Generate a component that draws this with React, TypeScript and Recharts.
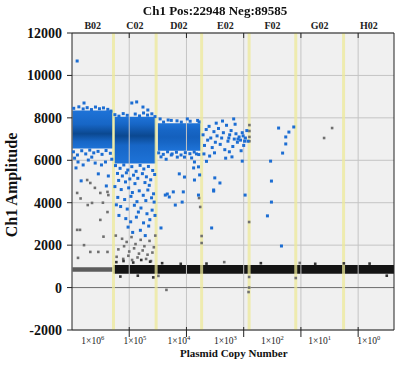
import React from 'react';
import { ComposedChart, Scatter, XAxis, YAxis, CartesianGrid, ReferenceArea, ReferenceLine } from 'recharts';

// droplet index along the run, in thousands
const wells = ['B02', 'C02', 'D02', 'E02', 'F02', 'G02', 'H02'];
const copyExp = ['6', '5', '4', '3', '2', '1', '0'];
const wellBounds = [0, 14.5, 29.4, 45.3, 61.9, 78.2, 94.9, 112.53];
const gridTicks = [20, 40, 60, 80, 100];
const ampTicks = [-2000, 0, 2000, 4000, 6000, 8000, 10000, 12000];

// dense positive clusters
const blobX1 = [0.2, 14.7, 30.0];
const blobX2 = [14.3, 29.2, 45.0];
const blobLow = [6550, 5850, 6450];
const blobHigh = [8350, 8050, 7750];
const blobCore = [7250, 7150, 7100];

// negative droplet band
const negX1 = [0.2, 14.5];
const negX2 = [14.3, 112.53];
const negLow = [740, 650];
const negHigh = [960, 1060];

const blueDrops: [number, number][] = [
  // B02
  [1.8, 10680], [4.2, 8700],
  [0.6, 8450], [2.4, 8520], [3.9, 8420], [5.3, 8480], [6.8, 8390], [8.2, 8510], [9.6, 8430], [11.0, 8470], [12.5, 8400], [13.6, 8320],
  [0.5, 6400], [1.9, 6250], [3.4, 6450], [4.8, 6300], [6.2, 6480], [7.6, 6350], [9.1, 6420], [10.5, 6280], [11.9, 6460], [13.4, 6330],
  [2.1, 5920], [3.9, 5780], [5.7, 6010], [8.1, 5870], [10.3, 5780], [11.7, 5920], [1.4, 5640], [9.2, 5360], [12.7, 5260], [3.2, 5030],
  [12.0, 4790], [0.9, 6100], [6.9, 6150], [13.9, 6050],
  // C02
  [20.9, 8700], [22.6, 8750], [24.8, 8510], [26.5, 8370], [15.0, 8150], [16.4, 8080], [17.9, 8200], [19.3, 8120], [22.1, 8180],
  [23.6, 8090], [25.0, 8230], [26.4, 8130], [27.9, 8190], [29.0, 8060],
  [15.2, 5750], [16.8, 5620], [18.1, 5780], [19.5, 5540], [20.9, 5700], [22.4, 5480], [23.8, 5760], [25.1, 5590], [26.7, 5710],
  [28.2, 5520], [15.9, 5380], [17.6, 5260], [19.0, 5410], [21.5, 5300], [23.0, 5150], [24.6, 5370], [26.0, 5220], [27.5, 5080],
  [28.9, 5330], [16.3, 5050], [18.7, 4980], [20.2, 5120], [22.0, 4900], [25.5, 4950], [27.0, 4820],
  [15.0, 4760], [17.2, 4620], [19.8, 4700], [21.1, 4480], [23.5, 4560], [24.9, 4350], [26.5, 4600], [28.5, 4420], [16.0, 4250],
  [18.4, 4150], [20.6, 4300], [22.7, 4050], [25.8, 4100], [27.8, 4230], [15.5, 3900],
  [17.0, 3820], [19.3, 3700], [21.8, 3880], [23.2, 3560], [24.1, 3750], [26.2, 3480], [28.0, 3650], [16.4, 3400], [18.8, 3250],
  [20.5, 3100], [22.5, 3320], [25.0, 3050], [27.2, 3200], [29.0, 3400],
  [19.6, 2850], [23.9, 2700], [26.8, 2900], [21.2, 2600], [25.6, 2450], [28.7, 4030],
  // D02
  [30.8, 7950], [32.0, 7800], [33.6, 7900], [34.7, 7880], [36.7, 7860], [38.2, 7800], [40.3, 7950], [41.3, 7840], [43.9, 7880], [44.4, 7810],
  [30.3, 6350], [31.9, 6280], [33.4, 6400], [35.0, 6300], [36.5, 6380], [38.1, 6250], [39.6, 6360], [41.2, 6310], [42.7, 6390], [44.3, 6270],
  [31.1, 6160], [34.7, 6250], [39.3, 6150], [41.8, 6110], [32.9, 6050], [36.8, 6150], [43.5, 6300],
  [42.8, 5920], [44.2, 5690], [42.5, 5640], [37.5, 5360], [39.3, 5210], [42.8, 5070], [44.6, 5310], [33.3, 4410], [35.4, 4510],
  [44.2, 4360], [32.6, 4360], [34.0, 4270], [38.9, 4510], [36.1, 3890], [38.5, 4030], [31.1, 2810],
  // E02
  [45.8, 7200], [46.3, 6700], [46.9, 7450], [47.4, 6950], [47.9, 7600], [48.5, 7050], [49.0, 6600], [49.6, 7350], [50.1, 6850],
  [50.7, 7150], [51.2, 7500], [51.8, 6750], [52.3, 7050], [52.9, 7300], [53.4, 6500], [54.0, 7650], [54.5, 6900], [55.1, 7200],
  [55.6, 7400], [56.2, 6650], [56.7, 7000], [57.3, 7250], [57.8, 6850], [58.4, 7100], [58.9, 6950], [59.5, 7300], [60.0, 6700],
  [60.6, 7050], [61.1, 7400], [46.1, 6300], [48.1, 6200], [50.4, 7750], [52.6, 7850], [55.0, 6400], [57.0, 7700], [59.1, 6450],
  [61.5, 6900], [47.0, 5950], [49.8, 6350], [53.7, 6100], [56.5, 7950], [58.0, 7000], [59.8, 7150], [60.3, 6900], [54.8, 7050],
  [49.9, 5170], [51.7, 4930], [49.5, 4550], [59.5, 5960], [55.9, 6160], [48.8, 2810], [49.5, 4600], [60.5, 4360],
  // F02
  [72.2, 7520], [77.5, 7570], [75.8, 7330], [74.7, 7100], [74.7, 6770], [73.6, 6340], [69.4, 5960], [69.7, 5020], [69.7, 4030],
  [68.3, 3380], [73.2, 1960],
];

const grayDrops: [number, number][] = [
  // B02
  [1.8, 4460], [5.5, 3890], [7.0, 3990], [9.9, 3190], [1.8, 2720], [2.8, 2720], [9.2, 1680], [6.4, 1680], [12.4, 1680], [2.1, 1400],
  [12.4, 3560], [12.7, 4360], [5.3, 5070], [6.4, 4930], [9.9, 4460], [12.4, 4510], [3.0, 4200], [8.0, 4700], [10.8, 4000],
  [4.2, 2000], [11.0, 2400],
  // C02
  [15.3, 2450], [17.5, 2300], [19.1, 2150], [20.8, 2380], [22.2, 2050], [24.0, 2250], [25.3, 1950], [27.1, 2200], [28.6, 1900],
  [16.2, 1800], [18.2, 1950], [20.0, 1700], [21.7, 1850], [23.4, 1600], [24.7, 1750], [26.4, 1550], [28.1, 1650], [15.6, 1450],
  [17.9, 1350], [19.7, 1500], [21.0, 1300], [22.9, 1420], [25.9, 1350], [27.6, 1250], [29.1, 2450],
  // rest
  [44.4, 4220], [44.8, 3800], [45.3, 2430], [45.3, 2100], [61.9, 3090], [62.0, 7660], [62.0, 7380], [62.0, 7100], [62.0, 6900],
  [88.1, 7050], [90.9, 7520], [30.2, 550], [33.0, -110], [53.2, 1200], [61.9, 0], [61.9, 500], [78.2, 450], [79.6, 1160], [61.7, -210],
];

const blackDrops: [number, number][] = [
  [15.5, 1200], [18.0, 1250], [21.4, 1180], [24.2, 1300], [27.3, 1220], [16.9, 520], [23.0, 560], [28.4, 480],
  [31.5, 1150], [38.0, 1120], [47.0, 1130], [66.0, 1150], [85.0, 1120], [95.0, 1140], [104.0, 1130], [110.0, 560],
];

const toPts = (arr: [number, number][]) => arr.map(([x, y]) => ({ x, y }));
const wellCenters = wells.map((_, i) => (wellBounds[i] + wellBounds[i + 1]) / 2);
const topBottomTicks = [...gridTicks, ...wellCenters].sort((a, b) => a - b);

const serif = '"Liberation Serif", "DejaVu Serif", serif';

const square = (fill: string, s = 3) => (p: any) => (
  <rect x={p.cx - s / 2} y={p.cy - s / 2} width={s} height={s} fill={fill} />
);

const wellIndex = (v: number) => wellCenters.findIndex((c) => Math.abs(c - v) < 0.01);

const TopTick = (p: any) => {
  const i = wellIndex(p.payload.value);
  if (i < 0) return <line x1={p.x} x2={p.x} y1={p.y} y2={p.y + 5} stroke="#222" />;
  return (
    <text x={p.x} y={p.y - 4} textAnchor="middle" fontFamily={serif} fontWeight="bold" fontSize={10} fill="#222">
      {wells[i]}
    </text>
  );
};

const BottomTick = (p: any) => {
  const i = wellIndex(p.payload.value);
  if (i < 0) return <line x1={p.x} x2={p.x} y1={p.y - 3} y2={p.y + 7} stroke="#222" />;
  return (
    <text x={p.x} y={p.y + 14} textAnchor="middle" fontFamily={serif} fontSize={9.5} fill="#222">
      1×10<tspan dy={-4} fontSize={6.5}>{copyExp[i]}</tspan>
    </text>
  );
};

export default function App() {
  return (
    <div style={{ position: 'fixed', left: 0, top: 0, width: 416, height: 375, background: '#fff' }}>
      <ComposedChart width={416} height={375} margin={{ top: 12, right: 22, bottom: 5, left: 4 }}>
        <defs>
          {blobCore.map((c, i) => {
            const mid = (blobHigh[i] - c) / (blobHigh[i] - blobLow[i]);
            const core = i < 2 ? '#0b4890' : '#1460bd';
            return (
              <linearGradient key={i} id={`blob${i}`} x1="0" y1="0" x2="0" y2="1">
                <stop offset={0} stopColor="#1e73d8" />
                <stop offset={Math.max(0, mid - 0.25)} stopColor="#1766c6" />
                <stop offset={mid} stopColor={core} />
                <stop offset={Math.min(1, mid + 0.2)} stopColor="#1766c6" />
                <stop offset={1} stopColor="#1e73d8" />
              </linearGradient>
            );
          })}
        </defs>
        <CartesianGrid xAxisId="bottom" yAxisId="left" fill="#f0f0f0" stroke="#c4c4c4" vertical={false} horizontalValues={ampTicks} />
        <XAxis xAxisId="bottom" dataKey="x" type="number" domain={[0, 112.53]} ticks={topBottomTicks} allowDataOverflow interval={0}
          tick={<BottomTick />} tickLine={false} tickSize={0} tickMargin={0} height={40} stroke="#222" />
        <XAxis xAxisId="top" orientation="top" dataKey="x" type="number" domain={[0, 112.53]} ticks={topBottomTicks} allowDataOverflow interval={0}
          tick={<TopTick />} tickLine={false} tickSize={0} tickMargin={0} height={21} stroke="#222" />
        <YAxis yAxisId="left" dataKey="y" type="number" domain={[-2000, 12000]} ticks={ampTicks} allowDataOverflow width={68} interval={0}
          tickSize={5} tickMargin={5} stroke="#222"
          tick={{ fontFamily: serif, fontWeight: 'bold', fontSize: 14, fill: '#111' }} />
        <YAxis yAxisId="right" orientation="right" dataKey="y" type="number" domain={[-2000, 12000]} ticks={ampTicks} allowDataOverflow
          width={4} tick={false} tickSize={4} mirror stroke="#222" interval={0} />

        {gridTicks.map((x) => (
          <ReferenceLine key={`g${x}`} xAxisId="bottom" yAxisId="left" x={x} stroke="#c4c4c4" strokeWidth={1} />
        ))}
        {negX1.map((x, i) => (
          <ReferenceArea key={`n${i}`} xAxisId="bottom" yAxisId="left" x1={x} x2={negX2[i]} y1={negLow[i]} y2={negHigh[i]}
            fill={i === 0 ? '#5c5c5c' : '#141414'} fillOpacity={1} stroke="none" />
        ))}
        {blobX1.map((x, i) => (
          <ReferenceArea key={`b${i}`} xAxisId="bottom" yAxisId="left" x1={x} x2={blobX2[i]} y1={blobLow[i]} y2={blobHigh[i]}
            fill={`url(#blob${i})`} fillOpacity={1} stroke="none" />
        ))}
        <ReferenceLine xAxisId="bottom" yAxisId="left" y={0} stroke="#707070" strokeWidth={1} />

        <Scatter xAxisId="bottom" yAxisId="left" data={toPts(grayDrops)} shape={square('#707070', 2.6)} isAnimationActive={false} />
        <Scatter xAxisId="bottom" yAxisId="left" data={toPts(blackDrops)} shape={square('#333', 2.6)} isAnimationActive={false} />
        <Scatter xAxisId="bottom" yAxisId="left" data={toPts(blueDrops)} shape={square('#1c6dd2', 3)} isAnimationActive={false} />

        {wellBounds.slice(1, -1).map((x) => (
          <ReferenceLine key={`w${x}`} xAxisId="bottom" yAxisId="left" x={x} stroke="#eeea9a" strokeOpacity={0.75} strokeWidth={3} />
        ))}
      </ComposedChart>
      <div style={{ position: 'absolute', left: 0, width: 430, top: 3, textAlign: 'center', fontFamily: serif, fontWeight: 'bold', fontSize: 13, color: '#111' }}>
        Ch1 Pos:22948 Neg:89585
      </div>
      <div style={{ position: 'absolute', left: 180, top: 347, fontFamily: serif, fontWeight: 'bold', fontSize: 11, color: '#111' }}>
        Plasmid Copy Number
      </div>
      <div style={{ position: 'absolute', left: 12, top: 185, transform: 'translate(-50%, -50%) rotate(-90deg)', whiteSpace: 'nowrap',
        fontFamily: serif, fontWeight: 'bold', fontSize: 16, color: '#111' }}>
        Ch1 Amplitude
      </div>
    </div>
  );
}
